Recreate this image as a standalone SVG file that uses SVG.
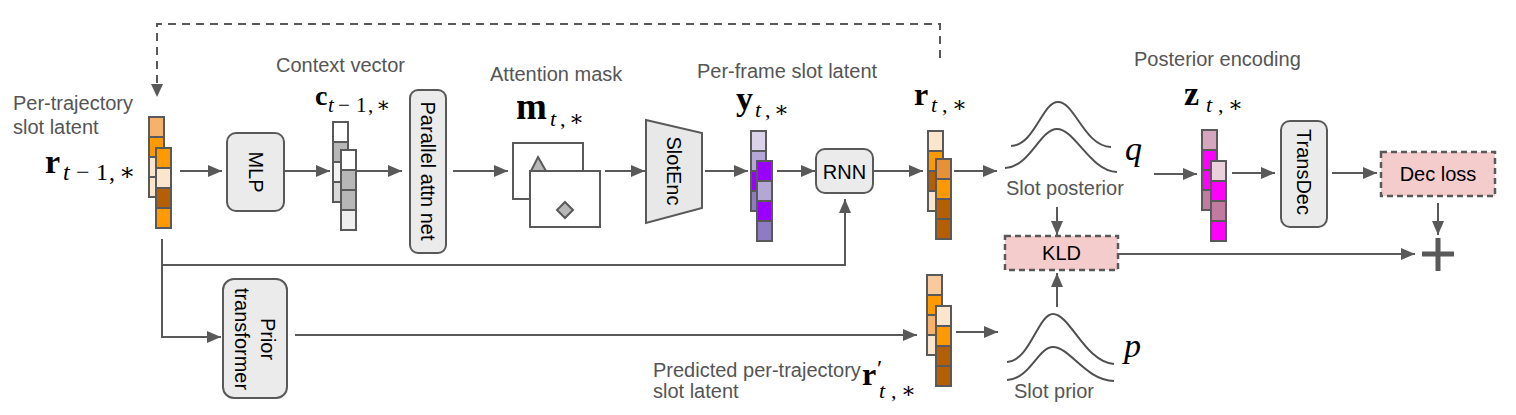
<svg xmlns="http://www.w3.org/2000/svg" width="1516" height="415" viewBox="0 0 1516 415">
<defs>
<style>
.lbl{font-family:"Liberation Sans",Arial,sans-serif;font-size:20px;fill:#555}
.box{fill:#ebebeb;stroke:#595959;stroke-width:2}
.btxt{font-family:"Liberation Sans",Arial,sans-serif;font-size:20px;fill:#000;text-anchor:middle;dominant-baseline:central}
.cell{stroke:#595959;stroke-width:2}
.conn{fill:none;stroke:#595959;stroke-width:2}
.dash{stroke-dasharray:8 6}
.loss{fill:#f4cccc;stroke:#595959;stroke-width:2.5;stroke-dasharray:6 4}
.curve{fill:none;stroke:#505050;stroke-width:2}
.math{font-family:"Liberation Serif","DejaVu Serif",serif;fill:#000}
.mb{font-weight:bold}
.mi{font-style:italic}
</style>
<marker id="ah" markerWidth="14" markerHeight="12" refX="14" refY="6" orient="auto" markerUnits="userSpaceOnUse">
<path d="M0,0 L14,6 L0,12 z" fill="#595959"/>
</marker>
</defs>

<g id="connectors">
<path class="conn dash" d="M940,58 V24 H157 V84"/>
<path d="M151,84 L163,84 L157,97 z" fill="#595959"/>
<path class="conn" d="M180,171 H222" marker-end="url(#ah)"/>
<path class="conn" d="M285,171 H330" marker-end="url(#ah)"/>
<path class="conn" d="M357,171 H402" marker-end="url(#ah)"/>
<path class="conn" d="M453,171 H508" marker-end="url(#ah)"/>
<path class="conn" d="M605,171 H645" marker-end="url(#ah)"/>
<path class="conn" d="M705,171 H748" marker-end="url(#ah)"/>
<path class="conn" d="M777,171 H815" marker-end="url(#ah)"/>
<path class="conn" d="M873,171 H923" marker-end="url(#ah)"/>
<path class="conn" d="M954,171 H997" marker-end="url(#ah)"/>
<path class="conn" d="M162,239 V265 H845 V199" marker-end="url(#ah)"/>
<path class="conn" d="M162,265 V337 H221" marker-end="url(#ah)"/>
<path class="conn" d="M295,335 H917" marker-end="url(#ah)"/>
<path class="conn" d="M956,332 H998" marker-end="url(#ah)"/>
<path class="conn" d="M1154,174 H1197" marker-end="url(#ah)"/>
<path class="conn" d="M1232,173 H1275" marker-end="url(#ah)"/>
<path class="conn" d="M1332,173 H1377" marker-end="url(#ah)"/>
<path class="conn" d="M1438,203 V235" marker-end="url(#ah)"/>
<path class="conn" d="M1057,207 V235" marker-end="url(#ah)"/>
<path class="conn" d="M1057,307 V273" marker-end="url(#ah)"/>
<path class="conn" d="M1118,254 H1415" marker-end="url(#ah)"/>
</g>

<g id="r_prev">
<text class="lbl" x="13" y="110">Per-trajectory</text>
<text class="lbl" x="13" y="134">slot latent</text>
<text class="math" y="173"><tspan class="mb" x="45" font-size="34">r</tspan><tspan class="mi" x="63" y="180" font-size="24">t</tspan><tspan x="76" y="180" font-size="24">−</tspan><tspan x="96" y="180" font-size="24">1</tspan><tspan x="109" y="180" font-size="24">,</tspan><tspan x="119" y="180" font-size="24">∗</tspan></text>
<rect class="cell" x="149" y="117" width="15" height="20" fill="#f6b26b"/>
<rect class="cell" x="149" y="137" width="15" height="20" fill="#ff9900"/>
<rect class="cell" x="149" y="157" width="15" height="20" fill="#fce5cd"/>
<rect class="cell" x="149" y="177" width="15" height="20" fill="#fce5cd"/>
<rect class="cell" x="156" y="148" width="15" height="20" fill="#ff9900"/>
<rect class="cell" x="156" y="168" width="15" height="20" fill="#fce5cd"/>
<rect class="cell" x="156" y="188" width="15" height="20" fill="#b45f06"/>
<rect class="cell" x="156" y="208" width="15" height="20" fill="#ff9900"/>
</g>

<g id="mlp">
<rect class="box" x="227" y="133" width="57" height="78" rx="9"/>
<text class="btxt" transform="translate(256,172) rotate(90)" font-size="22">MLP</text>
</g>

<g id="context">
<text class="lbl" x="276" y="72">Context vector</text>
<text class="math" y="105"><tspan class="mb" x="315" font-size="28">c</tspan><tspan class="mi" x="328" y="112" font-size="21">t</tspan><tspan x="338" y="112" font-size="21">−</tspan><tspan x="356" y="112" font-size="21">1</tspan><tspan x="368" y="112" font-size="21">,</tspan><tspan x="376" y="112" font-size="21">∗</tspan></text>
<rect class="cell" x="333" y="122" width="15" height="20" fill="#ffffff"/>
<rect class="cell" x="333" y="142" width="15" height="20" fill="#b7b7b7"/>
<rect class="cell" x="333" y="162" width="15" height="20" fill="#f3f3f3"/>
<rect class="cell" x="333" y="182" width="15" height="20" fill="#d9d9d9"/>
<rect class="cell" x="341" y="150" width="15" height="20" fill="#ffffff"/>
<rect class="cell" x="341" y="170" width="15" height="20" fill="#b7b7b7"/>
<rect class="cell" x="341" y="190" width="15" height="20" fill="#b7b7b7"/>
<rect class="cell" x="341" y="210" width="15" height="20" fill="#efefef"/>
</g>

<g id="parallel">
<rect class="box" x="410" y="90" width="36" height="163" rx="8"/>
<text class="btxt" transform="translate(428,171) rotate(90)">Parallel attn net</text>
</g>

<g id="mask">
<text class="lbl" x="490" y="81">Attention mask</text>
<text class="math" y="119"><tspan class="mb" x="516" font-size="37">m</tspan><tspan class="mi" x="550" y="126" font-size="22">t</tspan><tspan x="560" y="126" font-size="22">,</tspan><tspan x="569" y="126" font-size="22">∗</tspan></text>
<rect x="513" y="143" width="70" height="56" fill="#fff" stroke="#595959" stroke-width="2"/>
<path d="M538,157 L546,171 L531,171 z" fill="#b7b7b7" stroke="#595959" stroke-width="2"/>
<rect x="530" y="171" width="70" height="56" fill="#fff" stroke="#595959" stroke-width="2"/>
<path d="M565,202 L573,210 L565,218 L557,210 z" fill="#b7b7b7" stroke="#595959" stroke-width="2"/>
</g>

<g id="slotenc">
<path d="M646,120 L702,133 L702,208 L646,223 z" fill="#e8e8e8" stroke="#595959" stroke-width="2"/>
<text class="btxt" transform="translate(674,171) rotate(90)">SlotEnc</text>
</g>

<g id="y_frame">
<text class="lbl" x="697" y="78">Per-frame slot latent</text>
<text class="math" y="110"><tspan class="mb" x="736" font-size="34">y</tspan><tspan class="mi" x="755" y="117" font-size="22">t</tspan><tspan x="765" y="117" font-size="22">,</tspan><tspan x="774" y="117" font-size="22">∗</tspan></text>
<rect class="cell" x="751" y="131" width="15" height="20" fill="#d9d2e9"/>
<rect class="cell" x="751" y="151" width="15" height="20" fill="#b4a7d6"/>
<rect class="cell" x="751" y="171" width="15" height="20" fill="#9900ff"/>
<rect class="cell" x="751" y="191" width="15" height="20" fill="#8e7cc3"/>
<rect class="cell" x="757" y="161" width="15" height="20" fill="#9900ff"/>
<rect class="cell" x="757" y="181" width="15" height="20" fill="#b4a7d6"/>
<rect class="cell" x="757" y="201" width="15" height="20" fill="#9900ff"/>
<rect class="cell" x="757" y="221" width="15" height="20" fill="#8e7cc3"/>
</g>

<g id="rnn">
<rect class="box" x="816" y="149" width="57" height="44" rx="9"/>
<text class="btxt" x="844.5" y="171.5" font-size="16">RNN</text>
</g>

<g id="r_t">
<text class="math" y="105"><tspan class="mb" x="914" font-size="32">r</tspan><tspan class="mi" x="931" y="112" font-size="22">t</tspan><tspan x="942" y="112" font-size="22">,</tspan><tspan x="952" y="112" font-size="22">∗</tspan></text>
<rect class="cell" x="928" y="131" width="15" height="20" fill="#fce5cd"/>
<rect class="cell" x="928" y="151" width="15" height="20" fill="#ff9900"/>
<rect class="cell" x="928" y="171" width="15" height="20" fill="#b45f06"/>
<rect class="cell" x="928" y="191" width="15" height="20" fill="#fce5cd"/>
<rect class="cell" x="936" y="159" width="15" height="20" fill="#e69138"/>
<rect class="cell" x="936" y="179" width="15" height="20" fill="#ff9900"/>
<rect class="cell" x="936" y="199" width="15" height="20" fill="#b45f06"/>
<rect class="cell" x="936" y="219" width="15" height="20" fill="#b45f06"/>
</g>

<g id="posterior">
<path class="curve" d="M1011,146 C1035,145 1042,102 1058,102 C1075,102 1084,146 1111,147"/>
<path class="curve" d="M1005,168 C1030,167 1040,129 1057,129 C1075,129 1090,171 1117,172"/>
<text class="math mi" x="1125" y="160" font-size="34">q</text>
<text class="lbl" x="1006" y="195">Slot posterior</text>
</g>

<g id="z_post">
<text class="lbl" x="1134" y="66">Posterior encoding</text>
<text class="math" y="105"><tspan class="mb" x="1184" font-size="34">z</tspan><tspan class="mi" x="1206" y="112" font-size="22">t</tspan><tspan x="1218" y="112" font-size="22">,</tspan><tspan x="1228" y="112" font-size="22">∗</tspan></text>
<rect class="cell" x="1202" y="130" width="15" height="20" fill="#d5a6bd"/>
<rect class="cell" x="1202" y="150" width="15" height="20" fill="#ff00ff"/>
<rect class="cell" x="1202" y="170" width="15" height="20" fill="#ff00ff"/>
<rect class="cell" x="1202" y="190" width="15" height="20" fill="#c27ba0"/>
<rect class="cell" x="1211" y="161" width="15" height="20" fill="#ead1dc"/>
<rect class="cell" x="1211" y="181" width="15" height="20" fill="#ff00ff"/>
<rect class="cell" x="1211" y="201" width="15" height="20" fill="#c27ba0"/>
<rect class="cell" x="1211" y="221" width="15" height="20" fill="#ff00ff"/>
</g>

<g id="transdec">
<rect class="box" x="1281" y="121" width="46" height="106" rx="9"/>
<text class="btxt" transform="translate(1304,172) rotate(90)">TransDec</text>
</g>

<g id="decloss">
<rect class="loss" x="1381" y="152" width="114" height="44"/>
<text class="btxt" x="1438" y="174">Dec loss</text>
</g>

<g id="plus">
<path d="M1422,254 H1454 M1438,238 V271" stroke="#595959" stroke-width="5" fill="none"/>
</g>

<g id="kld">
<rect class="loss" x="1005" y="236" width="113" height="34"/>
<text class="btxt" x="1061.5" y="253">KLD</text>
</g>

<g id="prior_tf">
<rect class="box" x="223" y="279" width="64" height="119" rx="11"/>
<text class="btxt" transform="translate(268,339) rotate(90)">Prior</text>
<text class="btxt" transform="translate(242,339) rotate(90)">transformer</text>
</g>

<g id="r_pred">
<rect class="cell" x="927" y="275" width="15" height="20" fill="#f9cb9c"/>
<rect class="cell" x="927" y="295" width="15" height="20" fill="#ff9900"/>
<rect class="cell" x="927" y="315" width="15" height="20" fill="#f6b26b"/>
<rect class="cell" x="927" y="335" width="15" height="20" fill="#fce5cd"/>
<rect class="cell" x="936" y="306" width="15" height="20" fill="#fce5cd"/>
<rect class="cell" x="936" y="326" width="15" height="20" fill="#ff9900"/>
<rect class="cell" x="936" y="346" width="15" height="20" fill="#b45f06"/>
<rect class="cell" x="936" y="366" width="15" height="20" fill="#b45f06"/>
<text class="lbl" x="653" y="377">Predicted per-trajectory</text>
<text class="lbl" x="653" y="398">slot latent</text>
<text class="math" y="385"><tspan class="mb" x="862" font-size="32">r</tspan><tspan x="877" y="376" font-size="24">′</tspan><tspan class="mi" x="879" y="398" font-size="22">t</tspan><tspan x="891" y="398" font-size="22">,</tspan><tspan x="901" y="398" font-size="22">∗</tspan></text>
</g>

<g id="prior">
<path class="curve" d="M1007,362 C1030,361 1038,314 1053,314 C1070,314 1085,362 1114,364"/>
<path class="curve" d="M1007,380 C1030,379 1038,347 1053,347 C1070,347 1085,380 1114,381"/>
<text class="math mi" x="1124" y="357" font-size="34">p</text>
<text class="lbl" x="1014" y="398">Slot prior</text>
</g>
</svg>
